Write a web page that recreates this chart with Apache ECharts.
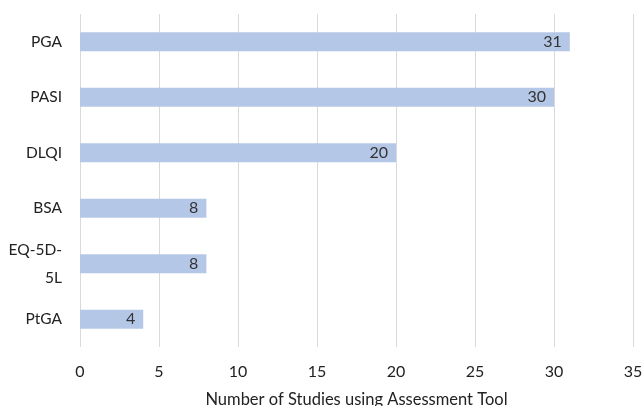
<!DOCTYPE html>
<html>
<head>
<meta charset="utf-8">
<script src="https://cdn.jsdelivr.net/npm/echarts@6/dist/echarts.min.js"></script>
<style>html,body{margin:0;padding:0;background:#fff}#c{width:644px;height:406px}</style>
</head>
<body>
<div id="c"></div>
<script>
var categories = ["PGA", "PASI", "DLQI", "BSA", "EQ-5D-\n5L", "PtGA"];
var values = [31, 30, 20, 8, 8, 4];
var xTicks = [0, 5, 10, 15, 20, 25, 30, 35];

var chart = echarts.init(document.getElementById('c'));
chart.setOption({
  animation: false,
  textStyle: { fontFamily: 'Lato' },
  grid: { left: 80, right: 11, top: 14, bottom: 59, outerBoundsMode: 'none', containLabel: false },
  xAxis: {
    type: 'value', min: 0, max: 35, interval: 5,
    axisLine: { show: false }, axisTick: { show: false },
    splitLine: { lineStyle: { color: '#d9d9d9', width: 1 } },
    axisLabel: { color: '#222', fontSize: 16, margin: 17,
      formatter: function (v) { return xTicks.indexOf(v) >= 0 ? String(v) : ''; } },
    name: 'Number of Studies using Assessment Tool',
    nameLocation: 'middle', nameGap: 44,
    nameTextStyle: { color: '#222', fontSize: 16.5 }
  },
  yAxis: {
    type: 'category', data: categories, inverse: true,
    axisLine: { show: false }, axisTick: { show: false },
    axisLabel: { color: '#222', fontSize: 15.5, margin: 18, lineHeight: 28, align: 'right' }
  },
  series: [{
    type: 'bar', data: values, barWidth: 19,
    itemStyle: { color: '#b4c7e7' },
    label: { show: true, position: 'insideRight', distance: 8, color: '#333', fontSize: 16 }
  }]
});
</script>
</body>
</html>
